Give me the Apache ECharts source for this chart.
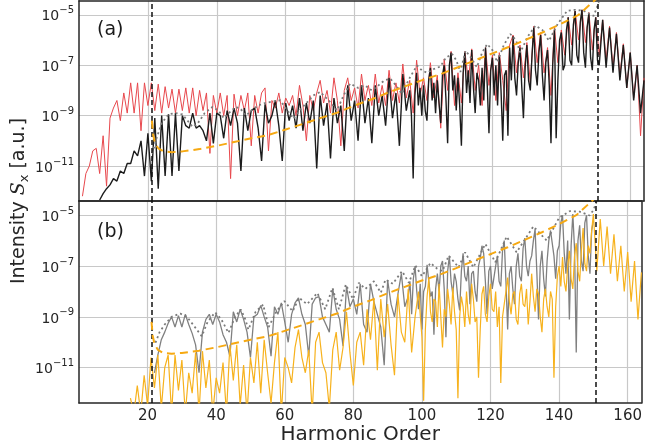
<!DOCTYPE html>
<html>
<head>
<meta charset="utf-8">
<script src="https://cdn.jsdelivr.net/npm/echarts@6/dist/echarts.min.js"></script>
<style>html,body{margin:0;padding:0;background:#fff;overflow:hidden}#c{width:645px;height:448px}</style>
</head>
<body>
<div id="c"></div>
<script>
// ---- data: log10(intensity) ----
const xTicks = [20, 40, 60, 80, 100, 120, 140, 160];
const yTicks = [-11, -9, -7, -5];           // exponents of the labelled decades
const cutoffLines = [21.1, 150.7];

// panel (a) red: one value per harmonic order, from order 1
const redStart = 1;
const redA = [
 -12.2,-11.3,-11.0,-10.4,-10.3,-11.3,-9.8,-11.8,-9.1,-8.7,
 -8.4,-9.2,-8.1,-8.9,-7.7,-8.9,-7.7,-9.6,-7.7,-8.6,
 -7.7,-8.8,-7.75,-8.9,-7.85,-8.7,-7.95,-8.9,-7.95,-8.8,
 -7.9,-8.9,-7.9,-9.0,-8.0,-8.8,-8.1,-10.5,-8.2,-8.9,
 -8.1,-9.0,-8.2,-11.5,-8.15,-9.0,-8.2,-8.8,-8.1,-10.2,
 -8.2,-8.9,-8.1,-7.9,-10.4,-8.4,-8.7,-8.1,-8.9,-8.3,
 -8.6,-8.2,-9.0,-7.8,-8.6,-10.0,-8.2,-8.8,-8.1,-7.6,
 -8.5,-8.0,-8.9,-7.5,-8.4,-10.2,-8.0,-7.5,-8.4,-7.9,
 -8.7,-7.35,-8.4,-7.8,-8.6,-7.35,-8.5,-7.8,-8.6,-7.2,
 -8.4,-7.7,-8.5,-6.95,-8.3,-7.6,-8.9,-6.8,-8.2,-7.5,
 -8.4,-6.9,-8.3,-7.4,-9.5,-6.75,-8.0,-6.45,-8.6,-7.3,
 -8.5,-6.45,-7.6,-6.35,-8.0,-7.0,-8.6,-6.3,-7.8,-6.6,
 -8.4,-6.5,-7.6,-8.8,-6.2,-5.8,-7.3,-6.2,-7.5,-6.1,
 -7.7,-5.45,-6.9,-5.7,-7.3,-6.3,-8.2,-5.5,-6.9,-5.6,
 -6.6,-5.1,-6.2,-4.85,-6.0,-4.8,-6.1,-4.9,-6.4,-5.1,
 -6.6,-5.2,-6.8,-5.45,-7.1,-5.7,-7.4,-6.15,-7.9,-6.5,
 -8.3,-7.0,-9.8,-7.5
];
// panel (a) black: orders 6..95 (step 1), 96..150.5 (step 0.5), 151..164 (step 1)
const blackHeadStart = 6;
const blackHead = [
 -12.35,-12.1,-11.9,-11.75,-11.5,-11.6,-11.2,-11.3,-10.9,-10.9,
 -10.4,-10.6,-10.0,-11.4,-9.7,-11.6,-9.1,-11.9,-9.0,-11.4,
 -8.95,-11.4,-8.9,-11.2,-9.0,
 -9.4,-9.5,-8.9,-9.5,-9.4,-9.6,-10.0,-8.9,-10.1,-8.9,
 -9.0,-9.9,-8.8,-9.4,-8.7,-9.3,-11.2,-8.7,-9.6,-8.8,
 -8.7,-9.5,-10.8,-8.55,-9.3,
 -9.0,-8.4,-9.4,-10.8,-8.5,-9.2,-8.6,-9.5,-8.3,-9.6,
 -8.5,-9.3,-8.4,-11.1,-8.2,-9.4,-8.5,-10.7,-8.3,-9.3,
 -8.6,-10.4,-7.8,-9.2,-8.4,-10.0,-7.8,-9.3,-8.3,-10.1,
 -7.8,-9.0,-8.2,-9.4,-7.5,-9.1,-8.1,-10.2,-7.35,-8.8
];
const blackFineStart = 96;
const blackFine = [
 -8.0,-9.0,-11.5,-8.2,-7.3,-8.6,-7.9,-9.0,-7.8,-8.8,
 -9.2,-7.6,-7.1,-8.4,-7.7,-8.9,-7.6,-8.5,-9.3,-7.4,
 -7.0,-8.3,-10.1,-7.0,-6.5,-8.0,-7.4,-8.8,-7.5,-8.6,
 -10.2,-7.3,-6.5,-8.1,-7.2,-8.5,-6.4,-7.9,-8.9,-7.3,
 -7.6,-8.6,-7.1,-8.4,-6.3,-7.8,-9.7,-7.2,-6.7,-8.2,
 -7.0,-8.6,-6.6,-8.0,-10.0,-7.4,-7.2,-9.8,-6.3,-7.6,
 -5.85,-7.5,-8.2,-6.9,-6.3,-7.8,-9.1,-7.1,-6.2,-7.6,
 -8.0,-6.6,-5.5,-7.2,-7.8,-6.5,-5.8,-7.4,-8.4,-6.9,
 -6.4,-7.8,-10.1,-7.0,-5.6,-9.9,-7.6,-6.0,-5.7,-7.2,
 -7.0,-5.6,-5.1,-6.8,-7.0,-5.4,-4.85,-6.6,-6.9,-5.3,
 -4.8,-6.5,-7.1,-5.5,-4.95,-6.7,-7.2,-5.6,-5.1,-6.8
];
const blackTailStart = 151;
const blackTail = [-7.0,-5.2,-7.1,-5.5,-7.3,-5.75,-7.6,-6.2,-7.9,-6.5,-8.4,-7.0,-8.9,-7.6];

const dottedAX = [21.3,22.5,24,26,28,30,31.5,33,34.5,36.5,38.7,40.5,42,43.5,45.5,47,48.5,50,52,54,56,58.4,60.5,62.3,64,66,68,70,72.5,74.9,76.8,78.7,81,83,85,86.9,88.7,90.4,92,93.7,96,98.1,99.5,101,103,104.9,106.5,108.3,109.5,110.7,112.2,113.8,115.5,117,118.5,120,121.4,123.3,125.2,126.8,128.1,130.3,132.5,134.5,136.4,139,141.7,144,146.5,148,149.4,150.2,150.9];
const dottedAY = [-10.5,-9.9,-9.3,-8.95,-8.9,-8.95,-9.2,-9.45,-9.3,-8.9,-8.66,-8.8,-9.1,-8.9,-8.65,-8.75,-9.0,-8.8,-8.6,-8.5,-8.45,-8.39,-8.8,-9.12,-8.8,-8.5,-8.2,-8.06,-8.4,-8.79,-8.2,-7.73,-7.9,-7.8,-8.0,-7.8,-7.6,-7.54,-7.8,-8.13,-7.5,-7.01,-7.2,-7.3,-7.15,-7.05,-6.7,-6.55,-6.8,-7.27,-6.42,-6.7,-7.08,-6.5,-6.16,-6.4,-6.88,-6.2,-5.76,-6.0,-6.49,-5.85,-5.43,-5.6,-6.03,-5.35,-4.84,-4.8,-4.84,-4.95,-5.04,-4.75,-4.5];

// dashed fit (same in both panels)
const fitX = [21.15,21.5,22,23,24.5,27,30,35,40,45,50,55,60,65,70,75,80,85,90,95,100,105,110,115,120,125,130,135,140,145,150.7];
const fitY = [-9.2,-9.75,-10.05,-10.3,-10.42,-10.45,-10.42,-10.33,-10.2,-10.05,-9.9,-9.77,-9.55,-9.33,-9.1,-8.88,-8.6,-8.35,-8.07,-7.82,-7.57,-7.35,-7.08,-6.8,-6.53,-6.26,-5.97,-5.67,-5.35,-5.0,-4.3];

// panel (b) gray: orders 22..95 (step 1), 96..150 (step 0.5)
const grayHeadStart = 22;
const grayHead = [
 -11.2,-10.5,-9.9,-9.6,-9.25,-9.0,-9.4,-8.95,-9.4,-8.9,
 -9.3,-9.65,-10.1,-11.2,-9.6,-9.1,-8.9,-9.3,-8.9,-9.2,
 -9.7,-10.0,-10.55,-8.8,-9.2,-8.7,-9.1,-9.6,-10.6,-9.0,
 -8.9,-8.55,-9.0,-9.4,-10.55,-8.6,-8.9,-8.45,-9.2,-10.0,
 -8.9,-8.45,-8.25,-8.9,-9.3,-10.55,-8.5,-8.25,-8.2,
 -9.0,-9.3,-9.6,-7.9,-8.7,-9.1,-10.15,-7.8,-8.6,-8.3,
 -8.9,-7.7,-9.3,-9.6,-7.7,-8.4,-8.9,-9.4,-10.9,-7.55,
 -8.5,-9.0,-8.1,-7.3,-8.6
];
const grayFineStart = 96;
const grayFine = [
 -8.2,-7.6,-8.9,-7.5,-7.0,-8.0,-8.7,-7.7,-9.5,-8.0,
 -7.8,-6.95,-7.6,-8.2,-8.0,-9.7,-7.9,-7.3,-8.0,-7.0,
 -6.8,-7.9,-9.8,-7.2,-6.6,-7.6,-8.1,-7.3,-7.6,-8.3,
 -8.75,-7.2,-6.5,-7.4,-7.6,-7.0,-8.5,-7.3,-7.2,-8.0,
 -8.4,-7.0,-6.7,-6.2,-6.5,-7.6,-8.9,-7.2,-7.0,-7.9,
 -7.9,-7.0,-6.6,-7.6,-7.8,-6.4,-6.0,-7.6,-9.5,-7.3,
 -7.0,-7.9,-8.5,-7.0,-6.5,-7.4,-7.6,-6.3,-5.9,-7.0,
 -7.4,-6.8,-6.6,-6.0,-5.55,-7.2,-9.1,-7.0,-6.4,-7.5,
 -8.2,-6.8,-6.0,-5.6,-5.55,-6.6,-7.5,-6.4,-6.2,-5.3,
 -5.0,-6.5,-7.3,-6.0,-9.1,-6.2,-4.95,-6.3,-10.4,-6.0,
 -5.4,-6.8,-7.2,-5.3,-5.0,-6.6,-7.3,-5.6,-5.2
];
// panel (b) orange: orders 15..99 (step 1), 100..150 (step 0.5), 151..164 (step 1)
const orangeHeadStart = 15;
const orangeHead = [
 -12.2,-12.8,-11.7,-12.8,-11.3,-12.5,-10.6,-11.8,-10.5,-12.6,
 -11.0,-10.5,-12.8,-10.5,-11.9,-10.7,-12.8,-11.2,-12.0,-10.4,
 -12.8,-10.35,-11.8,-10.7,-12.8,-11.4,-12.0,-10.8,-12.8,-10.1,
 -11.5,-10.1,-12.5,-10.9,-12.8,-10.6,-11.6,-10.0,-12.0,-9.9,
 -11.2,-12.4,-10.8,-9.6,-12.8,-10.6,
 -11.0,-11.6,-10.2,-9.5,-10.6,-11.2,-10.3,-12.8,-10.0,-9.6,
 -10.8,-11.2,-12.6,-10.3,-9.6,-11.1,-10.2,-8.8,-10.4,-11.7,
 -10.0,-9.6,-10.9,-8.7,-9.9,-8.3,-11.1,-8.3,-9.8,-8.5,
 -10.1,-11.3,-8.1,-9.6,-10.0,-7.9,-10.4,-9.0,-8.0
];
const orangeFineStart = 100;
const orangeFine = [
 -9.8,-12.3,-9.5,-8.2,-7.5,-8.8,-9.2,-8.3,-8.4,-9.4,
 -7.7,-9.0,-10.2,-8.7,-9.0,-7.9,-8.5,-9.3,-7.85,-8.8,
 -9.5,-12.2,-9.0,-8.2,-8.6,-9.4,-8.0,-8.9,-9.3,-7.7,
 -8.3,-9.2,-9.0,-11.4,-9.5,-8.1,-7.8,-8.9,-9.2,-8.2,
 -7.7,-8.7,-8.8,-8.0,-9.4,-8.6,-11.6,-9.0,-8.5,-8.0,
 -7.45,-8.4,-8.9,-8.1,-8.0,-9.1,-9.3,-8.1,-7.7,-8.5,
 -8.6,-7.9,-9.3,-8.4,-7.3,-8.2,-8.8,-7.9,-8.1,-9.0,
 -9.6,-8.3,-7.9,-8.6,-9.0,-8.0,-8.3,-11.4,-8.6,-7.4,
 -7.0,-7.8,-6.65,-7.6,-8.0,-7.0,-6.4,-7.5,-7.9,-6.6,
 -6.1,-7.2,-7.6,-6.4,-5.5,-6.9,-7.2,-6.2,-6.5,-5.6,
 -4.95
];
const orangeTailStart = 151;
const orangeTail = [-7.2,-5.15,-7.0,-5.45,-7.3,-5.75,-7.6,-6.2,-8.0,-6.45,-8.4,-6.8,-9.1,-7.25];

const dottedBX = [22.3,23.5,25,27,29.5,31.5,33.5,35.8,37.5,39.7,41.5,43.6,45.5,47.2,48.5,49.4,51.5,53.7,55.3,57.5,59.9,62.3,64.2,66.5,69.5,71.8,73.9,75.8,77.8,79.9,81.6,83.5,86,88,89.4,91.5,94.2,96.2,98.1,100,102.5,104.4,106,107.8,110.7,112.6,115,118.5,121.4,124.7,127.6,132.5,136.4,140,143.1,146,148.9,150,150.9];
const dottedBY = [-10.02,-9.6,-9.3,-9.0,-8.87,-9.0,-9.35,-9.76,-9.2,-8.82,-9.1,-9.63,-9.0,-8.71,-9.1,-9.5,-8.8,-8.52,-9.4,-8.8,-8.38,-8.78,-8.25,-8.5,-8.06,-8.7,-7.86,-8.7,-7.73,-8.3,-7.66,-7.9,-7.6,-8.05,-7.53,-7.7,-7.2,-7.66,-6.98,-7.4,-6.88,-7.1,-7.2,-6.59,-7.05,-6.46,-7.05,-6.13,-6.85,-5.84,-6.46,-5.44,-6.0,-5.1,-4.84,-4.86,-5.01,-4.8,-4.49];

// ---- helpers ----
const seq = (start, step, vals) => vals.map((v, i) => [start + i * step, v]);
const pairs = (xs, ys) => xs.map((x, i) => [x, ys[i]]);

const FONT = 'DejaVu Sans';
const XMIN = 0, XMAX = 164;
const YMIN = -12.39, YMAX = -4.44;
const gridLineColor = '#c8c8c8';
const frame = {show: true, onZero: false, lineStyle: {color: '#262626', width: 1.5}};

function xAxisCfg(idx, showLabels, position) {
  const main = position === 'bottom';
  return {
    type: 'value', gridIndex: idx, min: XMIN, max: XMAX, position,
    axisLine: frame, axisTick: {show: false, customValues: xTicks},
    splitLine: {show: main, lineStyle: {color: gridLineColor, width: 1.2}},
    axisLabel: {show: showLabels, customValues: xTicks, margin: 6,
      fontFamily: FONT, fontSize: 15, color: '#262626'},
    name: showLabels ? 'Harmonic Order' : '', nameLocation: 'middle', nameGap: 18,
    nameTextStyle: {fontFamily: FONT, fontSize: 20, color: '#262626'}
  };
}
function yAxisCfg(idx, position) {
  const main = position === 'left';
  return {
    type: 'value', gridIndex: idx, min: YMIN, max: YMAX, position,
    axisLine: frame,
    axisTick: {show: false, customValues: yTicks},
    splitLine: {show: main, lineStyle: {color: gridLineColor, width: 1.2}},
    axisLabel: {
      show: main, customValues: yTicks, margin: 5, color: '#262626',
      formatter: v => '{b|10}{s|\u2212' + Math.abs(Math.round(v)) + '}',
      rich: {
        b: {fontFamily: FONT, fontSize: 14, lineHeight: 18, verticalAlign: 'bottom', color: '#262626'},
        s: {fontFamily: FONT, fontSize: 10, lineHeight: 11, verticalAlign: 'top', color: '#262626'}
      }
    }
  };
}
function lineSeries(name, idx, data, color, width, type, z) {
  return {
    name, type: 'line', xAxisIndex: idx * 2, yAxisIndex: idx * 2, data,
    showSymbol: false, symbol: 'none', smooth: false, clip: true, z: z,
    lineStyle: {color, width, type: type || 'solid'}, silent: true
  };
}
function cutoffMarks() {
  return {
    silent: true, symbol: 'none', label: {show: false},
    lineStyle: {color: '#111', width: 1.5, type: [5, 3]},
    data: cutoffLines.map(x => ({xAxis: x}))
  };
}

const blackData = seq(blackHeadStart, 1, blackHead)
  .concat(seq(blackFineStart, 0.5, blackFine))
  .concat(seq(blackTailStart, 1, blackTail));
const grayData = seq(grayHeadStart, 1, grayHead).concat(seq(grayFineStart, 0.5, grayFine));
const orangeData = seq(orangeHeadStart, 1, orangeHead)
  .concat(seq(orangeFineStart, 0.5, orangeFine))
  .concat(seq(orangeTailStart, 1, orangeTail));

const fitData = pairs(fitX, fitY);
const fitA = lineSeries('fitA', 0, fitData, '#f6a912', 2, [8, 5], 6);
fitA.markLine = cutoffMarks();
const fitB = lineSeries('fitB', 1, fitData, '#f6a912', 2, [8, 5], 6);
fitB.markLine = cutoffMarks();

const option = {
  animation: false,
  backgroundColor: '#ffffff',
  grid: [
    {left: 79, right: 1, top: 0.75, height: 200.25, show: false},
    {left: 79, right: 1, top: 201, height: 202, show: false}
  ],
  xAxis: [xAxisCfg(0, false, 'bottom'), xAxisCfg(0, false, 'top'), xAxisCfg(1, true, 'bottom'), xAxisCfg(1, false, 'top')],
  yAxis: [yAxisCfg(0, 'left'), yAxisCfg(0, 'right'), yAxisCfg(1, 'left'), yAxisCfg(1, 'right')],
  series: [
    lineSeries('red', 0, seq(redStart, 1, redA), '#e8484d', 1, 'solid', 2),
    lineSeries('black', 0, blackData, '#1c1c1c', 1.4, 'solid', 3),
    lineSeries('dottedA', 0, pairs(dottedAX, dottedAY), '#7a7a7a', 1.8, [2, 3], 4),
    fitA,
    lineSeries('gray', 1, grayData, '#808080', 1.3, 'solid', 2),
    lineSeries('orange', 1, orangeData, '#f7b21d', 1.2, 'solid', 3),
    lineSeries('dottedB', 1, pairs(dottedBX, dottedBY), '#7a7a7a', 1.8, [2, 3], 4),
    fitB
  ],
  graphic: [
    {type: 'text', left: 97, top: 21, style: {text: '(a)', font: '19px "DejaVu Sans"', fill: '#1a1a1a'}},
    {type: 'text', left: 97, top: 223, style: {text: '(b)', font: '19px "DejaVu Sans"', fill: '#1a1a1a'}},
    {type: 'text', x: 19, y: 201, rotation: Math.PI / 2,
     style: {
       text: '{n|Intensity }{i|S}{sub|x}{n| [a.u.]}',
       align: 'center', verticalAlign: 'middle',
       rich: {
         n: {fontFamily: FONT, fontSize: 19, lineHeight: 24, verticalAlign: 'middle', fill: '#262626'},
         i: {fontFamily: 'DejaVu Serif', fontStyle: 'italic', fontSize: 19, lineHeight: 24, verticalAlign: 'middle', fill: '#262626'},
         sub: {fontFamily: FONT, fontSize: 13, lineHeight: 13, verticalAlign: 'bottom', fill: '#262626'}
       }
     }}
  ]
};

const chart = echarts.init(document.getElementById('c'), null, {renderer: 'canvas'});
chart.setOption(option);
</script>
</body>
</html>
